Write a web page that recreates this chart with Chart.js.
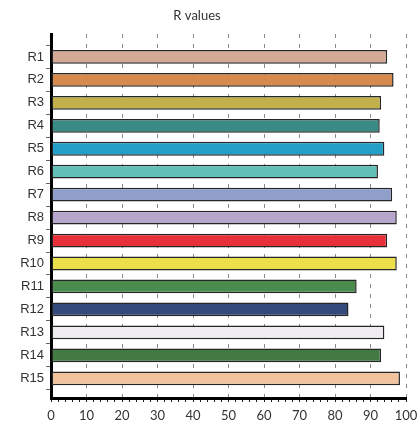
<!DOCTYPE html>
<html>
<head>
<meta charset="utf-8">
<script src="https://cdn.jsdelivr.net/npm/chart.js@4.4.0/dist/chart.umd.min.js"></script>
<style>
  body { margin: 0; background: #fff; }
  #wrap { width: 417px; height: 430px; }
</style>
</head>
<body>
<div id="wrap"><canvas id="graphCanvas"></canvas></div>
<script>
var names = ['R1', 'R2', 'R3', 'R4', 'R5', 'R6', 'R7', 'R8', 'R9', 'R10', 'R11', 'R12', 'R13', 'R14', 'R15'];
var rValues = [94.7, 96.5, 93.0, 92.6, 93.9, 92.1, 96.1, 97.4, 94.7, 97.4, 86.1, 83.8, 93.9, 93.0, 98.3];
var barColors = ['#d4aa96', '#d68a4e', '#c2b04a', '#3a8a85', '#24a0c8', '#62bfb8', '#8f9fc9', '#b7a6cb',
                 '#e8303a', '#ece04a', '#4a8c4e', '#344a7a', '#efedf0', '#437a44', '#f1c39e'];
var xTicks = [0, 10, 20, 30, 40, 50, 60, 70, 80, 90, 100];

var points = [];
for (var i in names) {
    points.push({ x: rValues[i], y: Number(i) + 1 });
}

// title drawn a bit left of centre, as in the original
var titlePlugin = {
    id: 'rTitle',
    afterDraw: function (chart) {
        var ctx = chart.ctx;
        ctx.save();
        ctx.font = '13px Lato, "Liberation Sans", sans-serif';
        ctx.fillStyle = '#333';
        ctx.textAlign = 'center';
        ctx.textBaseline = 'middle';
        ctx.fillText('R values', 197, 16);
        ctx.restore();
    }
};

var barGraph = new Chart(document.getElementById('graphCanvas'), {
    type: 'bar',
    data: {
        labels: names,
        datasets: [{
            label: 'R values',
            data: points,
            backgroundColor: barColors,
            borderColor: '#262626',
            borderWidth: 1.5,
            borderSkipped: false,
            barPercentage: 0.6,
            categoryPercentage: 1
        }]
    },
    plugins: [titlePlugin],
    options: {
        indexAxis: 'y',
        responsive: true,
        maintainAspectRatio: false,
        animation: false,
        layout: { padding: { top: 34, right: 11, left: 0, bottom: 0 } },
        plugins: {
            legend: { display: false },
            tooltip: { enabled: false },
            title: { display: false }
        },
        scales: {
            x: {
                type: 'linear',
                min: 0,
                max: 100,
                ticks: {
                    stepSize: 2,
                    autoSkip: false,
                    maxRotation: 0,
                    color: '#333',
                    padding: 6,
                    font: { size: 13, family: 'Lato, "Liberation Sans", sans-serif' },
                    callback: function (v) { return xTicks.indexOf(v) >= 0 ? String(v) : ''; }
                },
                grid: {
                    color: function (c) {
                        var v = c.tick ? c.tick.value : -1;
                        return (v % 10 === 0 && v > 0) ? '#8a8a8a' : 'rgba(0,0,0,0)';
                    },
                    tickColor: '#222',
                    tickLength: 4,
                    tickBorderDash: []
                },
                border: { display: true, color: '#000', width: 3, dash: [4, 6] },
                afterFit: function (scale) {
                    scale.height = 32;
                    scale.paddingRight = 0;
                    scale.paddingLeft = 0;
                }
            },
            y: {
                type: 'linear',
                reverse: true,
                offset: false,
                min: 0,
                max: 15.86,
                afterBuildTicks: function (scale) {
                    var t = [];
                    for (var k = 1; k <= names.length; k++) t.push({ value: k });
                    scale.ticks = t;
                },
                ticks: {
                    color: '#333',
                    padding: 2,
                    font: { size: 13, family: '"Liberation Sans", Arial, sans-serif' },
                    callback: function (v) { return names[v - 1] || ''; }
                },
                grid: {
                    drawOnChartArea: false,
                    tickColor: '#666',
                    tickLength: 5
                },
                border: { display: true, color: '#000', width: 3 },
                afterFit: function (scale) {
                    scale.width = 51;
                }
            }
        }
    }
});
</script>
</body>
</html>
